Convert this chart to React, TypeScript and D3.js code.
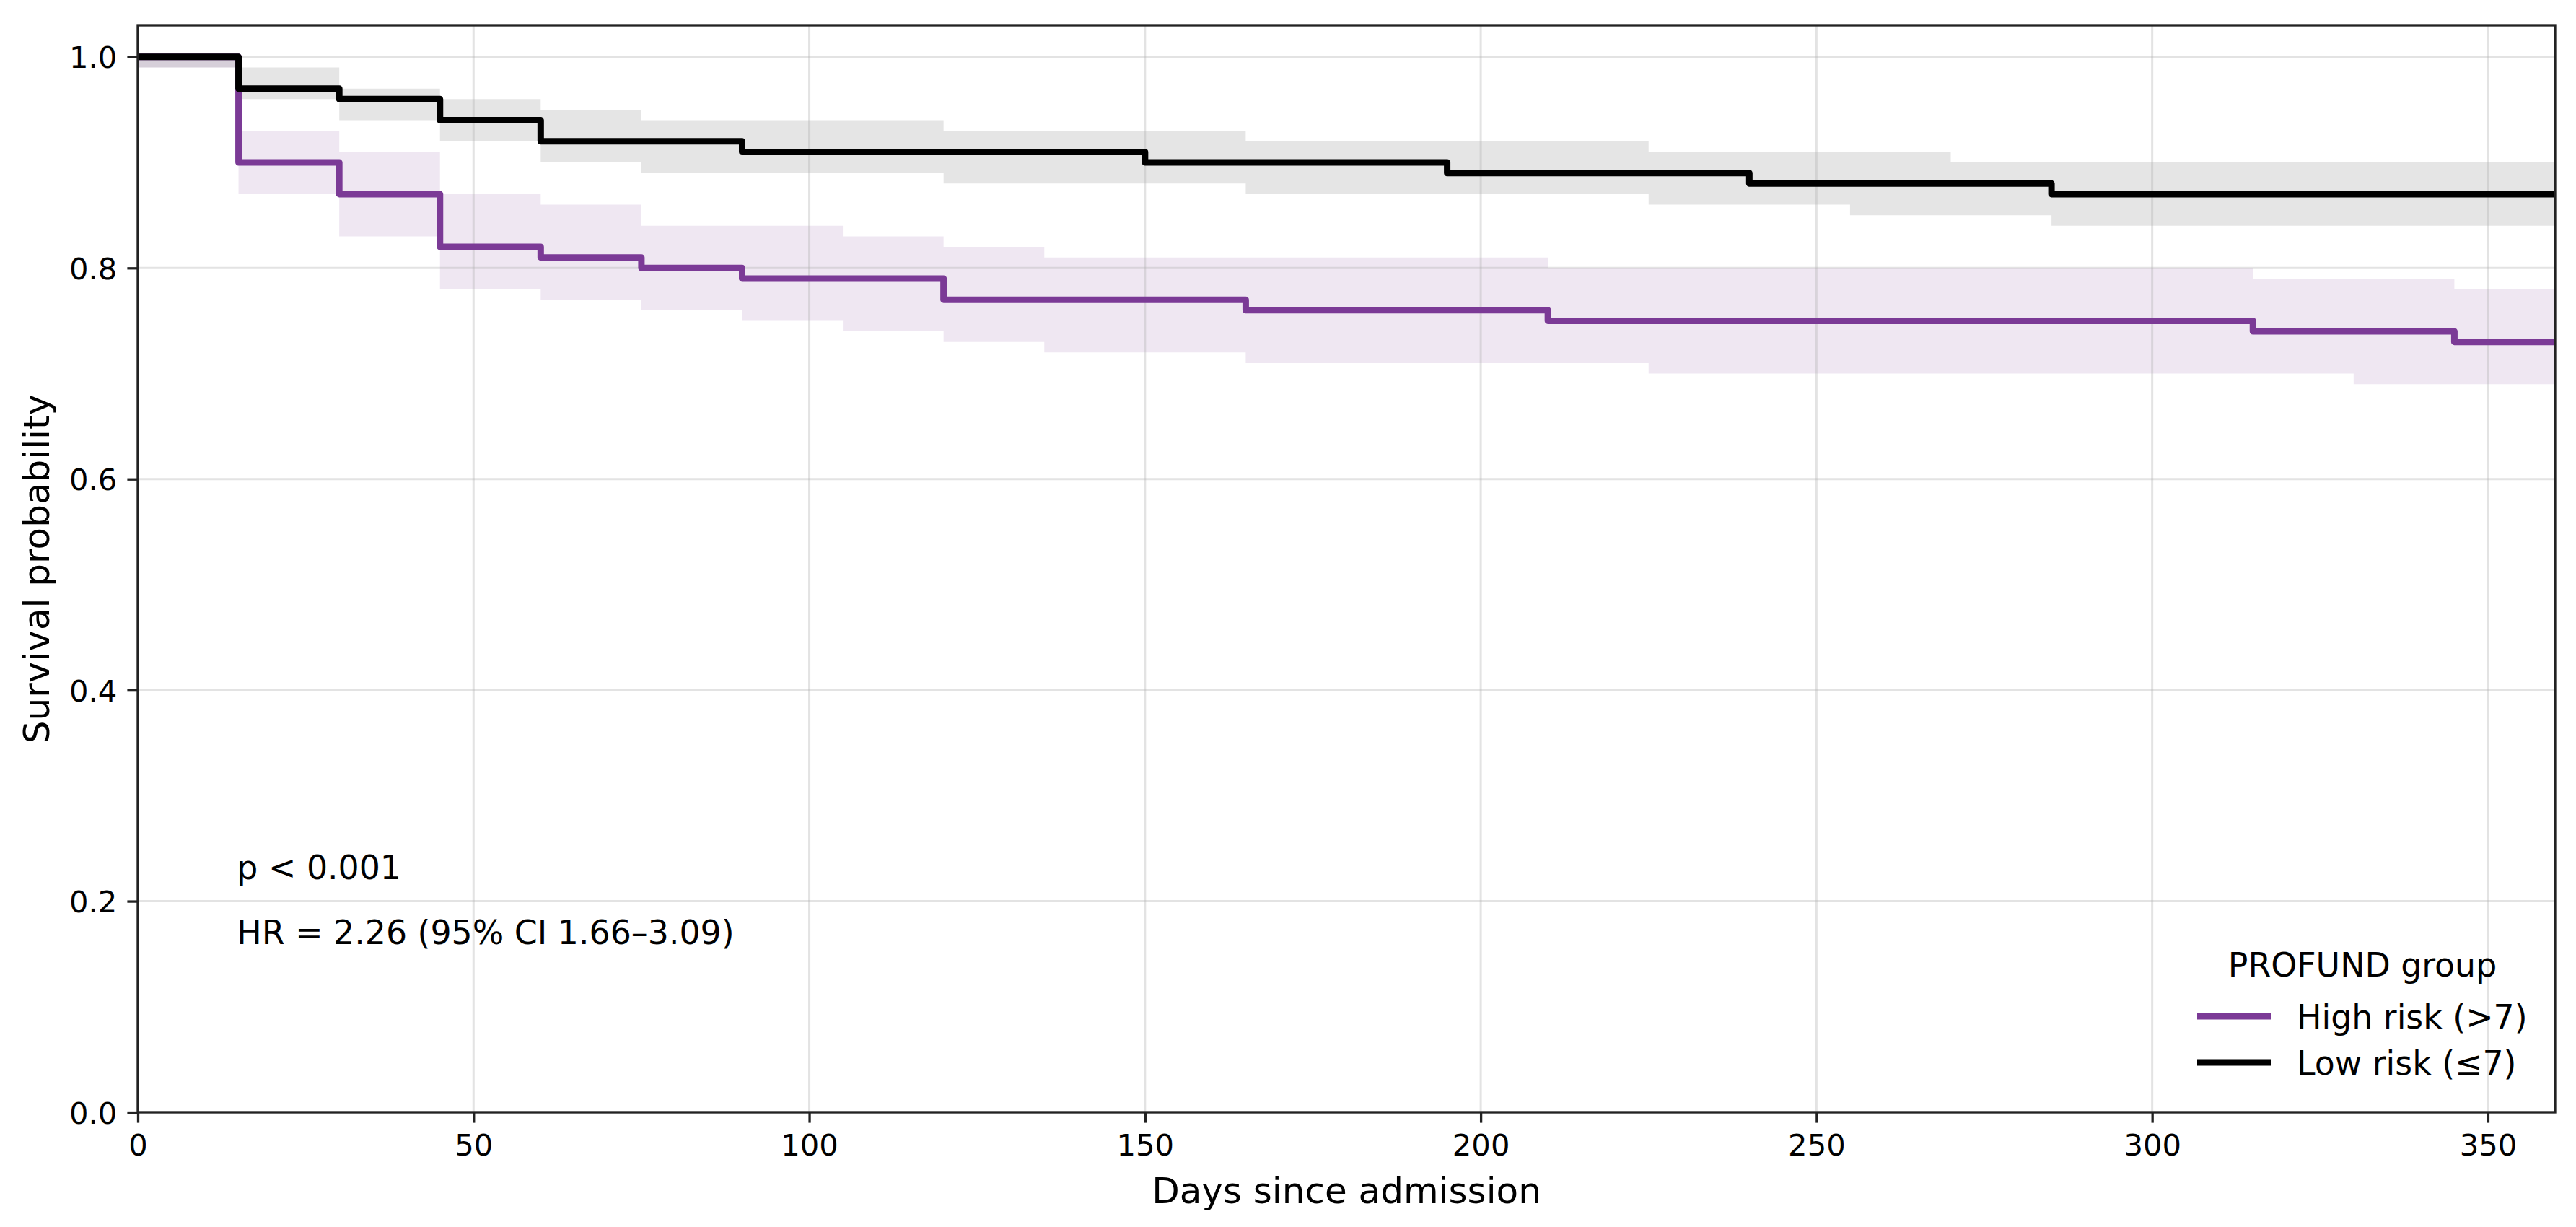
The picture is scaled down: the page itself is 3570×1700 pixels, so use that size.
import { useEffect, useRef } from "react";
import * as d3 from "d3";

// Kaplan-Meier estimates (step-post)
const HIGH_TIMES = [0, 15, 30, 45, 60, 75, 90, 120, 165, 210, 315, 345];
const HIGH_SURV  = [1.0, 0.90, 0.87, 0.82, 0.81, 0.80, 0.79, 0.77, 0.76, 0.75, 0.74, 0.73];

const HIGH_CI_TIMES = [0, 15, 30, 45, 60, 75, 90, 105, 120, 135, 165, 210, 225, 315, 330, 345];
const HIGH_CI_LOWER = [0.99, 0.87, 0.83, 0.78, 0.77, 0.76, 0.75, 0.74, 0.73, 0.72, 0.71, 0.71, 0.70, 0.70, 0.69, 0.69];
const HIGH_CI_UPPER = [1.0, 0.93, 0.91, 0.87, 0.86, 0.84, 0.84, 0.83, 0.82, 0.81, 0.81, 0.80, 0.80, 0.79, 0.79, 0.78];

const LOW_TIMES = [0, 15, 30, 45, 60, 90, 150, 195, 240, 285];
const LOW_SURV  = [1.0, 0.97, 0.96, 0.94, 0.92, 0.91, 0.90, 0.89, 0.88, 0.87];

const LOW_CI_TIMES = [0, 15, 30, 45, 60, 75, 120, 165, 225, 255, 270, 285];
const LOW_CI_LOWER = [0.99, 0.96, 0.94, 0.92, 0.90, 0.89, 0.88, 0.87, 0.86, 0.85, 0.85, 0.84];
const LOW_CI_UPPER = [1.0, 0.99, 0.97, 0.96, 0.95, 0.94, 0.93, 0.92, 0.91, 0.91, 0.90, 0.90];

const X_TICKS = [0, 50, 100, 150, 200, 250, 300, 350];
const Y_TICKS = [0, 0.2, 0.4, 0.6, 0.8, 1.0];

const GROUP_LABELS = ["High risk (>7)", "Low risk (≤7)"];
const LEGEND_TITLE = "PROFUND group";
const ANNOTATIONS = ["p < 0.001", "HR = 2.26 (95% CI 1.66–3.09)"];

const X_MAX = 360;
const Y_MAX = 1.03;

const C_HIGH = "#7b3a96";
const C_LOW  = "#000000";
const FONT = "'DejaVu Sans', sans-serif";

const WIDTH = 3570;
const HEIGHT = 1700;

interface StepPt { t: number; v: number; }
interface BandPt { t: number; lo: number; hi: number; }

function steps(times: number[], vals: number[]): StepPt[] {
  const pts = times.map((t, i) => ({ t, v: vals[i] }));
  pts.push({ t: X_MAX, v: vals[vals.length - 1] });
  return pts;
}

function band(times: number[], lo: number[], hi: number[]): BandPt[] {
  const pts = times.map((t, i) => ({ t, lo: lo[i], hi: hi[i] }));
  pts.push({ t: X_MAX, lo: lo[lo.length - 1], hi: hi[hi.length - 1] });
  return pts;
}

export default function App() {
  const svgRef = useRef<SVGSVGElement>(null);

  useEffect(() => {
    document.body.style.margin = "0";
    const svg = d3.select(svgRef.current);
    svg.selectAll("*").remove();

    const margin = { top: 35, right: 29, bottom: 159, left: 191 };
    const W = WIDTH - margin.left - margin.right;
    const H = HEIGHT - margin.top - margin.bottom;

    const xScale = d3.scaleLinear().domain([0, X_MAX]).range([0, W]);
    const yScale = d3.scaleLinear().domain([0, Y_MAX]).range([H, 0]);

    svg.append("rect").attr("width", WIDTH).attr("height", HEIGHT).attr("fill", "white");

    const g = svg.append("g")
      .attr("transform", `translate(${margin.left},${margin.top})`);

    // CI bands
    const area = d3.area<BandPt>()
      .curve(d3.curveStepAfter)
      .x(d => xScale(d.t))
      .y0(d => yScale(d.lo))
      .y1(d => yScale(d.hi));

    g.append("path")
      .datum(band(HIGH_CI_TIMES, HIGH_CI_LOWER, HIGH_CI_UPPER))
      .attr("d", area)
      .attr("fill", C_HIGH).attr("fill-opacity", 0.12);

    g.append("path")
      .datum(band(LOW_CI_TIMES, LOW_CI_LOWER, LOW_CI_UPPER))
      .attr("d", area)
      .attr("fill", C_LOW).attr("fill-opacity", 0.1);

    // Grid
    g.selectAll(".vg").data(X_TICKS).enter().append("line")
      .attr("x1", d => xScale(d)).attr("x2", d => xScale(d))
      .attr("y1", 0).attr("y2", H)
      .attr("stroke", "#b0b0b0").attr("stroke-opacity", 0.35).attr("stroke-width", 3);

    g.selectAll(".hg").data(Y_TICKS).enter().append("line")
      .attr("x1", 0).attr("x2", W)
      .attr("y1", d => yScale(d)).attr("y2", d => yScale(d))
      .attr("stroke", "#b0b0b0").attr("stroke-opacity", 0.35).attr("stroke-width", 3);

    // Survival curves
    const line = d3.line<StepPt>()
      .curve(d3.curveStepAfter)
      .x(d => xScale(d.t))
      .y(d => yScale(d.v));

    g.append("path")
      .datum(steps(HIGH_TIMES, HIGH_SURV))
      .attr("d", line)
      .attr("fill", "none").attr("stroke", C_HIGH)
      .attr("stroke-width", 9).attr("stroke-linejoin", "round");

    g.append("path")
      .datum(steps(LOW_TIMES, LOW_SURV))
      .attr("d", line)
      .attr("fill", "none").attr("stroke", C_LOW)
      .attr("stroke-width", 9).attr("stroke-linejoin", "round");

    // Axes
    const styleAxis = (ax: d3.Selection<SVGGElement, unknown, null, undefined>) => {
      ax.select(".domain").remove();
      ax.selectAll(".tick line").attr("stroke", "#222").attr("stroke-width", 3.3);
      ax.selectAll(".tick text")
        .attr("fill", "#000").attr("font-size", 41.7).attr("font-family", FONT);
    };

    g.append("g").attr("transform", `translate(0,${H})`)
      .call(d3.axisBottom(xScale).tickValues(X_TICKS).tickSize(14.6).tickPadding(14))
      .call(styleAxis)
      .call(ax => ax.selectAll(".tick text").attr("dy", "0.76em"));

    g.append("g")
      .call(d3.axisLeft(yScale).tickValues(Y_TICKS).tickFormat(d3.format(".1f")).tickSize(14.6).tickPadding(14))
      .call(styleAxis)
      .call(ax => ax.selectAll(".tick text").attr("dy", "0.36em"));

    // Frame
    g.append("rect")
      .attr("width", W).attr("height", H)
      .attr("fill", "none").attr("stroke", "#222").attr("stroke-width", 3.3);

    // Axis labels
    svg.append("text")
      .attr("x", margin.left + W / 2).attr("y", 1667)
      .attr("text-anchor", "middle")
      .attr("font-family", FONT).attr("font-size", 50).attr("fill", "#000")
      .text("Days since admission");

    svg.append("text")
      .attr("transform", `translate(68,${margin.top + H / 2}) rotate(-90)`)
      .attr("text-anchor", "middle")
      .attr("font-family", FONT).attr("font-size", 50).attr("fill", "#000")
      .text("Survival probability");

    // Annotations
    g.selectAll(".ann").data(ANNOTATIONS).enter().append("text")
      .attr("x", W * 0.041)
      .attr("y", (_, i) => 1218 - margin.top + i * 90)
      .attr("font-family", FONT).attr("font-size", 45.8).attr("fill", "#000")
      .text(d => d);

    // Legend
    const lg = svg.append("g");
    lg.append("text")
      .attr("x", 3274).attr("y", 1353)
      .attr("text-anchor", "middle")
      .attr("font-family", FONT).attr("font-size", 45.8).attr("fill", "#000")
      .text(LEGEND_TITLE);

    const colors = [C_HIGH, C_LOW];
    GROUP_LABELS.forEach((label, i) => {
      const cy = 1408 + i * 64;
      lg.append("line")
        .attr("x1", 3045).attr("x2", 3147)
        .attr("y1", cy).attr("y2", cy)
        .attr("stroke", colors[i]).attr("stroke-width", 9);
      lg.append("text")
        .attr("x", 3183).attr("y", cy + 17)
        .attr("font-family", FONT).attr("font-size", 45.8).attr("fill", "#000")
        .text(label);
    });
  }, []);

  return <svg ref={svgRef} width={WIDTH} height={HEIGHT} style={{ display: "block" }} />;
}
